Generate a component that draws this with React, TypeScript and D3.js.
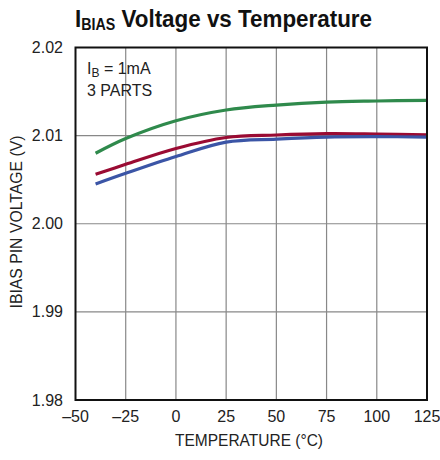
import React from "react";
import * as d3 from "d3";

const temps = [-40, -25, 0, 25, 50, 75, 100, 125];
const greenPart = [2.008, 2.00967, 2.01169, 2.01291, 2.01347, 2.01381, 2.01393, 2.01401];
const redPart = [2.00561, 2.00674, 2.00854, 2.00979, 2.01007, 2.01022, 2.01018, 2.0101];
const bluePart = [2.00451, 2.00572, 2.00763, 2.00927, 2.00961, 2.00984, 2.00988, 2.00984];
const xTicks = [-50, -25, 0, 25, 50, 75, 100, 125];
const yTicks = [1.98, 1.99, 2.0, 2.01, 2.02];

const series = [
  { name: "part1", values: greenPart, color: "#2f8a4c" },
  { name: "part2", values: redPart, color: "#9a0b33" },
  { name: "part3", values: bluePart, color: "#3b55a6" },
];

const FONT = "'Liberation Sans Narrow', 'Arial Narrow', 'Liberation Sans', Arial, sans-serif";

export default function App() {
  const W = 440, H = 460;
  const left = 75.5, right = 427, top = 47.5, bottom = 400;
  const x = d3.scaleLinear().domain([-50, 125]).range([left, right]);
  const y = d3.scaleLinear().domain([1.98, 2.02]).range([bottom, top]);
  const line = d3
    .line<number>()
    .x((_, i) => x(temps[i]))
    .y((d) => y(d))
    .curve(d3.curveCatmullRom.alpha(0.5));

  return (
    <svg width={W} height={H} style={{ position: "absolute", left: 0, top: 0, background: "#fff" }} fontFamily={FONT}>
      <rect x={0} y={0} width={W} height={H} fill="#fff" />
      <g transform="translate(75,27) scale(1.0,1.12)">
        <text x={0} y={0} fontSize={22} fontWeight="bold" fill="#111" textLength={297} lengthAdjust="spacingAndGlyphs">
          I<tspan fontSize={14} dy={3}>BIAS</tspan>
          <tspan dy={-3}> Voltage vs Temperature</tspan>
        </text>
      </g>
      {xTicks.slice(1, -1).map((t) => (
        <line key={"gx" + t} x1={x(t)} x2={x(t)} y1={top} y2={bottom} stroke="#888" strokeWidth={1.2} />
      ))}
      {yTicks.slice(1, -1).map((t) => (
        <line key={"gy" + t} x1={left} x2={right} y1={y(t)} y2={y(t)} stroke="#888" strokeWidth={1.2} />
      ))}
      {series.map((s) => (
        <path key={s.name} d={line(s.values) || ""} fill="none" stroke={s.color} strokeWidth={3.2} strokeLinecap="butt" />
      ))}
      <rect x={left} y={top} width={right - left} height={bottom - top} fill="none" stroke="#111" strokeWidth={2} />
      {yTicks.map((t) => (
        <text key={"yl" + t} x={63} y={y(t) + 5.5} fontSize={16} textAnchor="end" fill="#222">
          {d3.format(".2f")(t)}
        </text>
      ))}
      {xTicks.map((t) => (
        <text key={"xl" + t} x={x(t)} y={422} fontSize={16} textAnchor="middle" fill="#222">
          {t < 0 ? "\u2013" + Math.abs(t) : String(t)}
        </text>
      ))}
      <text x={249} y={446} fontSize={16} textAnchor="middle" fill="#222" textLength={148} lengthAdjust="spacingAndGlyphs">
        TEMPERATURE (°C)
      </text>
      <text
        transform="translate(21.5, 222) rotate(-90)"
        fontSize={16}
        textAnchor="middle"
        fill="#222"
        textLength={173}
        lengthAdjust="spacingAndGlyphs"
      >
        IBIAS PIN VOLTAGE (V)
      </text>
      <text x={87} y={74} fontSize={16} fill="#222">
        I<tspan fontSize={12} dy={3}>B</tspan>
        <tspan dy={-3}> = 1mA</tspan>
      </text>
      <text x={87} y={96} fontSize={16} fill="#222">
        3 PARTS
      </text>
    </svg>
  );
}
